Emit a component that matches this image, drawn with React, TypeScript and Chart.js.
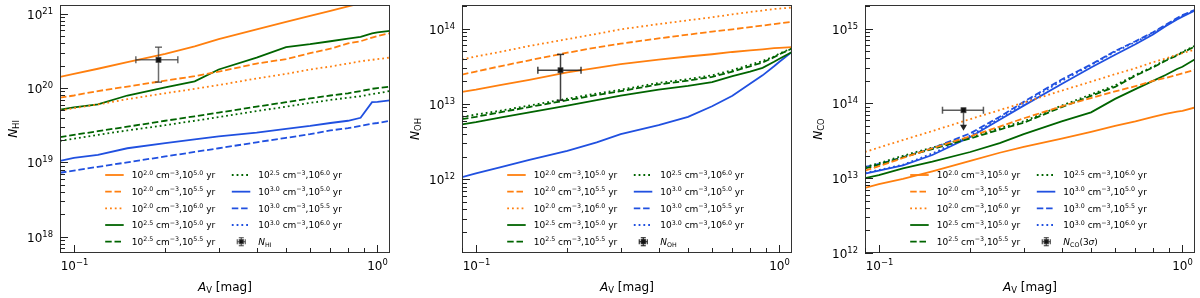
import React, { useEffect, useRef } from 'react';
import { Chart, registerables } from 'chart.js';

Chart.register(...registerables);

// ---------------- data ----------------
const AV = [0.09, 0.1, 0.12, 0.15, 0.2, 0.25, 0.3, 0.4, 0.5, 0.6, 0.7, 0.8, 0.88, 0.96, 1.0, 1.1];

// log10 N(HI)
const HI_20_50 = [20.15, 20.19, 20.26, 20.35, 20.46, 20.56, 20.66, 20.79, 20.89, 20.97, 21.04, 21.10, 21.14, 21.18, 21.20, 21.25];
const HI_20_55 = [19.87, 19.90, 19.96, 20.02, 20.10, 20.16, 20.22, 20.33, 20.39, 20.47, 20.53, 20.60, 20.63, 20.68, 20.70, 20.74];
const HI_20_60 = [19.70, 19.73, 19.78, 19.85, 19.93, 19.99, 20.04, 20.13, 20.19, 20.25, 20.29, 20.33, 20.36, 20.38, 20.39, 20.41];
const HI_25_50 = [19.71, 19.74, 19.78, 19.90, 20.01, 20.09, 20.25, 20.41, 20.55, 20.59, 20.63, 20.665, 20.69, 20.735, 20.75, 20.77];
const HI_25_55 = [19.34, 19.37, 19.42, 19.48, 19.56, 19.62, 19.67, 19.75, 19.81, 19.86, 19.90, 19.93, 19.96, 19.99, 20.00, 20.02];
const HI_25_60 = [19.29, 19.32, 19.37, 19.43, 19.50, 19.56, 19.61, 19.69, 19.75, 19.80, 19.84, 19.87, 19.89, 19.92, 19.93, 19.96];
const HI_30_50 = [19.02, 19.06, 19.10, 19.19, 19.26, 19.31, 19.35, 19.40, 19.45, 19.49, 19.53, 19.56, 19.60, 19.81, 19.815, 19.835];
const HI_30_55 = [18.86, 18.89, 18.94, 19.00, 19.08, 19.14, 19.19, 19.27, 19.33, 19.38, 19.43, 19.46, 19.49, 19.52, 19.53, 19.56];
const HI_30_60: number[] = [];

// log10 N(OH)
const OH_20_50 = [13.16, 13.19, 13.25, 13.32, 13.42, 13.48, 13.53, 13.59, 13.63, 13.66, 13.69, 13.71, 13.725, 13.74, 13.745, 13.755];
const OH_20_55 = [13.39, 13.43, 13.50, 13.58, 13.68, 13.75, 13.80, 13.87, 13.92, 13.96, 13.99, 14.02, 14.04, 14.06, 14.07, 14.09];
const OH_20_60 = [13.59, 13.63, 13.69, 13.77, 13.86, 13.93, 13.99, 14.06, 14.11, 14.15, 14.19, 14.22, 14.24, 14.26, 14.265, 14.28];
const OH_25_50 = [12.73, 12.76, 12.82, 12.89, 12.98, 13.05, 13.11, 13.19, 13.24, 13.29, 13.37, 13.43, 13.48, 13.56, 13.60, 13.69];
const OH_25_55 = [12.80, 12.83, 12.89, 12.96, 13.05, 13.12, 13.17, 13.26, 13.31, 13.36, 13.43, 13.50, 13.55, 13.62, 13.66, 13.735];
const OH_25_60 = [12.83, 12.86, 12.91, 12.98, 13.07, 13.14, 13.19, 13.28, 13.33, 13.38, 13.45, 13.52, 13.57, 13.63, 13.67, 13.74];
const OH_30_50 = [12.03, 12.08, 12.16, 12.26, 12.38, 12.49, 12.60, 12.72, 12.83, 12.97, 13.11, 13.27, 13.38, 13.50, 13.56, 13.69];
const OH_30_55: number[] = [];
const OH_30_60: number[] = [];

// log10 N(CO)
const CO_20_50 = [12.87, 12.92, 12.99, 13.09, 13.23, 13.34, 13.42, 13.53, 13.62, 13.70, 13.76, 13.82, 13.86, 13.89, 13.90, 13.945];
const CO_20_55 = [13.10, 13.16, 13.27, 13.40, 13.56, 13.69, 13.80, 13.96, 14.07, 14.16, 14.23, 14.30, 14.34, 14.38, 14.40, 14.45];
const CO_20_60 = [13.35, 13.41, 13.51, 13.63, 13.79, 13.91, 14.01, 14.17, 14.29, 14.39, 14.47, 14.55, 14.60, 14.65, 14.67, 14.72];
const CO_25_50 = [13.00, 13.04, 13.13, 13.22, 13.35, 13.47, 13.59, 13.76, 13.88, 14.06, 14.19, 14.30, 14.38, 14.46, 14.49, 14.59];
const CO_25_55 = [13.13, 13.18, 13.28, 13.39, 13.53, 13.65, 13.74, 13.95, 14.10, 14.22, 14.37, 14.48, 14.57, 14.64, 14.68, 14.76];
const CO_25_60 = [13.15, 13.20, 13.30, 13.41, 13.55, 13.67, 13.76, 13.97, 14.12, 14.24, 14.38, 14.49, 14.58, 14.65, 14.69, 14.77];
const CO_30_50 = [13.06, 13.10, 13.17, 13.31, 13.55, 13.78, 13.97, 14.26, 14.48, 14.65, 14.79, 14.92, 15.03, 15.12, 15.16, 15.24];
const CO_30_55 = [13.15, 13.19, 13.28, 13.40, 13.60, 13.82, 14.02, 14.32, 14.52, 14.70, 14.83, 14.95, 15.05, 15.14, 15.18, 15.25];
const CO_30_60 = [13.07, 13.11, 13.18, 13.33, 13.57, 13.80, 14.00, 14.30, 14.51, 14.69, 14.82, 14.94, 15.04, 15.13, 15.17, 15.25];

const PANEL_SERIES = [
  [HI_20_50, HI_20_55, HI_20_60, HI_25_50, HI_25_55, HI_25_60, HI_30_50, HI_30_55, HI_30_60],
  [OH_20_50, OH_20_55, OH_20_60, OH_25_50, OH_25_55, OH_25_60, OH_30_50, OH_30_55, OH_30_60],
  [CO_20_50, CO_20_55, CO_20_60, CO_25_50, CO_25_55, CO_25_60, CO_30_50, CO_30_55, CO_30_60],
];

const DENSITY_EXP = ['2.0', '2.0', '2.0', '2.5', '2.5', '2.5', '3.0', '3.0', '3.0'];
const TIME_EXP = ['5.0', '5.5', '6.0', '5.0', '5.5', '6.0', '5.0', '5.5', '6.0'];

const SPECIES = ['HI', 'OH', 'CO'];

// observation points
const OBS_AV = [0.19, 0.19, 0.19];
const OBS_AV_LO = [0.16, 0.16, 0.162];
const OBS_AV_HI = [0.22, 0.222, 0.221];
const OBS_N = [2.4e20, 2.8e13, 8.1e13];
const OBS_N_LO = [1.2e20, 1.12e13, 4.3e13];
const OBS_N_HI = [3.55e20, 4.55e13, 8.1e13];
const OBS_UPPER_LIMIT = [false, false, true];

// axis limits
const X_MIN = 0.09;
const X_MAX = 1.1;
const Y_MIN = [6.03e17, 1.057e11, 1.0e12];
const Y_MAX = [1.312e21, 2.056e14, 2.065e15];

// ---------------- styles ----------------
const FONT = '"DejaVu Sans", sans-serif';
const DENS_COLORS = ['#ff7f0e', '#006400', '#2050e0'];
const TIME_DASHES = [[], [6.5, 2.8], [1.8, 3.0]];
const LINE_W = 1.8;
const ERR_COLORS = ['rgba(60,60,60,0.75)', 'rgba(30,30,30,0.85)', 'rgba(50,50,50,0.8)'];
const PADDINGS = [
  { left: 60, right: 10, top: 5, bottom: 45 },
  { left: 62, right: 8, top: 5, bottom: 45 },
  { left: 65, right: 5, top: 5, bottom: 45 },
];

type Seg = { t: string; s?: 'sup' | 'sub'; it?: boolean };

function fontStr(size: number, italic: boolean) {
  return `${italic ? 'italic ' : ''}${size}px ${FONT}`;
}

function drawRich(ctx: CanvasRenderingContext2D, segs: Seg[], x: number, y: number, size: number, align: 'left' | 'right' | 'center', color = '#000') {
  const parts = segs.map((sg) => {
    const sz = sg.s ? size * 0.7 : size;
    ctx.font = fontStr(sz, !!sg.it);
    return { ...sg, sz, w: ctx.measureText(sg.t).width };
  });
  const total = parts.reduce((a, p) => a + p.w, 0);
  let cx = align === 'left' ? x : align === 'right' ? x - total : x - total / 2;
  ctx.fillStyle = color;
  ctx.textAlign = 'left';
  ctx.textBaseline = 'alphabetic';
  for (const p of parts) {
    ctx.font = fontStr(p.sz, !!p.it);
    const dy = p.s === 'sup' ? -size * 0.42 : p.s === 'sub' ? size * 0.2 : 0;
    ctx.fillText(p.t, cx, y + dy);
    cx += p.w;
  }
}

function logTicks(min: number, max: number) {
  const res: { v: number; major: boolean; e: number }[] = [];
  const e0 = Math.floor(Math.log10(min));
  const e1 = Math.ceil(Math.log10(max));
  for (let e = e0; e <= e1; e++) {
    for (let k = 1; k <= 9; k++) {
      const v = k * Math.pow(10, e);
      if (v >= min * 0.9999 && v <= max * 1.0001) res.push({ v, major: k === 1, e });
    }
  }
  return res;
}

function expStr(e: number) {
  return e < 0 ? '\u2212' + Math.abs(e) : String(e);
}

function line(ctx: CanvasRenderingContext2D, x1: number, y1: number, x2: number, y2: number) {
  ctx.beginPath();
  ctx.moveTo(x1, y1);
  ctx.lineTo(x2, y2);
  ctx.stroke();
}

function speciesSegs(p: number): Seg[] {
  if (p === 2) return [{ t: 'N', it: true }, { t: 'CO', s: 'sub' }, { t: '(3' }, { t: '\u03c3', it: true }, { t: ')' }];
  return [{ t: 'N', it: true }, { t: SPECIES[p], s: 'sub' }];
}

function drawErrorMarker(ctx: CanvasRenderingContext2D, cx: number, cy: number, color: string, hx: number, hy: number, cap: number, sq: number) {
  ctx.strokeStyle = color;
  ctx.lineWidth = 1.3;
  ctx.setLineDash([]);
  line(ctx, cx - hx, cy, cx + hx, cy);
  line(ctx, cx, cy - hy, cx, cy + hy);
  line(ctx, cx - hx, cy - cap, cx - hx, cy + cap);
  line(ctx, cx + hx, cy - cap, cx + hx, cy + cap);
  line(ctx, cx - cap, cy - hy, cx + cap, cy - hy);
  line(ctx, cx - cap, cy + hy, cx + cap, cy + hy);
  ctx.fillStyle = '#111';
  ctx.fillRect(cx - sq / 2, cy - sq / 2, sq, sq);
  ctx.strokeRect(cx - sq / 2, cy - sq / 2, sq, sq);
}

function makePlugin(p: number) {
  return {
    id: 'decor' + p,
    afterDatasetsDraw(chart: any) {
      const ctx: CanvasRenderingContext2D = chart.ctx;
      const xs = chart.scales.x;
      const ys = chart.scales.y;
      const { left, right, top, bottom } = chart.chartArea;
      ctx.save();

      // ---- observation error bar ----
      const ex = xs.getPixelForValue(OBS_AV[p]);
      const ey = ys.getPixelForValue(OBS_N[p]);
      const exl = xs.getPixelForValue(OBS_AV_LO[p]);
      const exh = xs.getPixelForValue(OBS_AV_HI[p]);
      const eyl = ys.getPixelForValue(OBS_N_LO[p]);
      const eyh = ys.getPixelForValue(OBS_N_HI[p]);
      ctx.strokeStyle = ERR_COLORS[p];
      ctx.lineWidth = 1.5;
      ctx.setLineDash([]);
      line(ctx, exl, ey, exh, ey);
      line(ctx, exl, ey - 3.5, exl, ey + 3.5);
      line(ctx, exh, ey - 3.5, exh, ey + 3.5);
      if (OBS_UPPER_LIMIT[p]) {
        line(ctx, ex, ey, ex, eyl - 5);
        ctx.fillStyle = '#222';
        ctx.beginPath();
        ctx.moveTo(ex - 3.5, eyl - 6);
        ctx.lineTo(ex + 3.5, eyl - 6);
        ctx.lineTo(ex, eyl);
        ctx.closePath();
        ctx.fill();
      } else {
        line(ctx, ex, eyl, ex, eyh);
        line(ctx, ex - 3.5, eyl, ex + 3.5, eyl);
        line(ctx, ex - 3.5, eyh, ex + 3.5, eyh);
      }
      ctx.fillStyle = '#111';
      ctx.fillRect(ex - 2.5, ey - 2.5, 5, 5);
      ctx.strokeStyle = '#444';
      ctx.lineWidth = 0.8;
      ctx.strokeRect(ex - 2.5, ey - 2.5, 5, 5);

      // ---- legend ----
      const colText = [right - 258.3, right - 131.7];
      const rowY0 = bottom - 78;
      const rowH = 16.67;
      const datasets = chart.data.datasets;
      for (let k = 0; k < 10; k++) {
        const col = k < 5 ? 0 : 1;
        const row = k % 5;
        const tx = colText[col];
        const ry = rowY0 + row * rowH;
        if (k < 9) {
          const ds = datasets[k];
          ctx.strokeStyle = ds.borderColor;
          ctx.lineWidth = LINE_W;
          ctx.lineCap = 'butt';
          ctx.setLineDash(ds.borderDash);
          line(ctx, tx - 26.5, ry, tx - 8, ry);
          ctx.setLineDash([]);
          drawRich(ctx, [
            { t: '10' }, { t: DENSITY_EXP[k], s: 'sup' }, { t: ' cm' }, { t: '\u22123', s: 'sup' },
            { t: ',10' }, { t: TIME_EXP[k], s: 'sup' }, { t: ' yr' },
          ], tx, ry + 3.3, 9, 'left');
        } else {
          drawErrorMarker(ctx, tx - 17, ry, ERR_COLORS[p], 4, 4, 2.5, 4);
          drawRich(ctx, speciesSegs(p), tx, ry + 3.3, 9, 'left');
        }
      }

      // ---- frame ----
      ctx.setLineDash([]);
      ctx.strokeStyle = '#333';
      ctx.lineWidth = 1;
      ctx.strokeRect(Math.round(left) + 0.5, Math.round(top) + 0.5, Math.round(right - left) - 1, Math.round(bottom - top) - 1);

      // ---- x ticks ----
      ctx.strokeStyle = '#222';
      for (const t of logTicks(X_MIN, X_MAX)) {
        const px = Math.round(xs.getPixelForValue(t.v)) + 0.5;
        const len = t.major ? 8 : 5;
        line(ctx, px, bottom, px, bottom - len);
        if (t.major) drawRich(ctx, [{ t: '10' }, { t: expStr(t.e), s: 'sup' }], px, bottom + 17, 12, 'center');
      }
      // ---- y ticks ----
      for (const t of logTicks(Y_MIN[p], Y_MAX[p])) {
        const py = Math.round(ys.getPixelForValue(t.v)) + 0.5;
        const len = t.major ? 8 : 5;
        line(ctx, left, py, left + len, py);
        if (t.major) drawRich(ctx, [{ t: '10' }, { t: expStr(t.e), s: 'sup' }], left - 7, py + 4.4, 12, 'right');
      }

      // ---- axis titles ----
      drawRich(ctx, [{ t: 'A', it: true }, { t: 'V', s: 'sub' }, { t: ' [mag]' }], (left + right) / 2, 291, 12, 'center');
      ctx.save();
      ctx.translate(left - 43, (top + bottom) / 2);
      ctx.rotate(-Math.PI / 2);
      drawRich(ctx, [{ t: 'N', it: true }, { t: SPECIES[p], s: 'sub' }], 0, 0, 12, 'center');
      ctx.restore();

      ctx.restore();
    },
  };
}

function Panel({ idx }: { idx: number }) {
  const ref = useRef<HTMLCanvasElement>(null);
  useEffect(() => {
    const series = PANEL_SERIES[idx];
    const chart = new Chart(ref.current as HTMLCanvasElement, {
      type: 'scatter',
      data: {
        datasets: series.map((arr, k) => ({
          label: `10^${DENSITY_EXP[k]} cm^-3, 10^${TIME_EXP[k]} yr`,
          data: arr.map((v, i) => ({ x: AV[i], y: Math.pow(10, v) })),
          showLine: true,
          borderColor: DENS_COLORS[Math.floor(k / 3)],
          backgroundColor: DENS_COLORS[Math.floor(k / 3)],
          borderWidth: LINE_W,
          borderDash: TIME_DASHES[k % 3],
          borderCapStyle: 'butt',
          pointRadius: 0,
          pointHoverRadius: 0,
          fill: false,
          tension: 0,
        })),
      },
      options: {
        responsive: false,
        animation: false,
        devicePixelRatio: 1,
        events: [],
        layout: { padding: PADDINGS[idx] },
        plugins: { legend: { display: false }, tooltip: { enabled: false }, title: { display: false } },
        scales: {
          x: { type: 'logarithmic', min: X_MIN, max: X_MAX, display: false, bounds: 'data' },
          y: { type: 'logarithmic', min: Y_MIN[idx], max: Y_MAX[idx], display: false, bounds: 'data' },
        },
      } as any,
      plugins: [makePlugin(idx)],
    } as any);
    return () => chart.destroy();
  }, [idx]);
  return (
    <canvas
      ref={ref}
      width={400}
      height={298}
      style={{ position: 'absolute', left: idx * 400, top: 0, width: 400, height: 298 }}
    />
  );
}

export default function App() {
  return (
    <div style={{ position: 'fixed', left: 0, top: 0, width: 1200, height: 298, background: '#fff' }}>
      <Panel idx={0} />
      <Panel idx={1} />
      <Panel idx={2} />
    </div>
  );
}
